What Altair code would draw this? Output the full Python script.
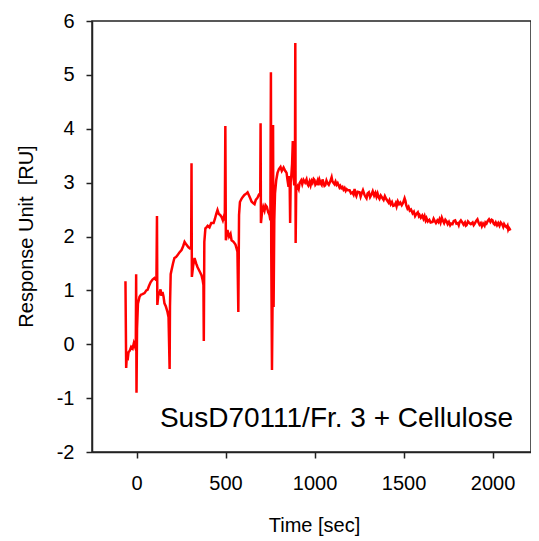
import altair as alt
import pandas as pd

time_sec = [
    -62, -58, -55, -50, -45, -38, -30, -22, -15, -8, -4, -2, 0, 3, 8, 17, 25, 34, 45, 55,
    62, 70, 79, 90, 101, 108, 112, 115, 117, 122, 129, 135, 140, 146, 152, 157, 165, 174, 180, 186,
    188, 192, 197, 205, 213, 222, 230, 240, 253, 262, 270, 280, 292, 300, 307, 309, 311, 318, 326, 335,
    343, 355, 365, 371, 376, 378, 381, 387, 393, 400, 410, 420, 433, 440, 448, 455, 462, 470, 478, 485,
    490, 496, 499, 502, 511, 520, 528, 534, 545, 556, 562, 567, 572, 576, 581, 590, 596, 606, 618, 624,
    632, 640, 646, 655, 663, 670, 680, 688, 695, 697, 699, 705, 712, 719, 725, 732, 740, 747, 752, 755,
    757, 761, 764, 767, 770, 774, 778, 785, 792, 800, 809, 816, 826, 835, 843, 848, 854, 858, 860, 863,
    866, 870, 874, 878, 881, 886, 890, 892, 894, 897, 905, 911, 916, 925, 931, 938, 947, 955, 960, 965,
    972, 978, 984, 989, 995, 1000, 1005, 1010, 1017, 1022, 1028, 1034, 1040, 1045, 1050, 1056, 1060, 1067, 1073, 1080,
    1088, 1096, 1100, 1105, 1112, 1118, 1124, 1130, 1135, 1140, 1145, 1151, 1157, 1163, 1169, 1175, 1180, 1188, 1197, 1205,
    1213, 1219, 1225, 1230, 1235, 1242, 1253, 1259, 1265, 1272, 1280, 1286, 1292, 1298, 1305, 1312, 1320, 1327, 1335, 1342,
    1348, 1354, 1360, 1365, 1372, 1382, 1388, 1395, 1402, 1410, 1416, 1421, 1428, 1435, 1442, 1450, 1456, 1461, 1468, 1475,
    1482, 1490, 1497, 1506, 1511, 1515, 1522, 1528, 1535, 1542, 1551, 1558, 1565, 1572, 1580, 1586, 1590, 1597, 1605, 1612,
    1618, 1624, 1629, 1636, 1645, 1652, 1663, 1669, 1675, 1682, 1690, 1696, 1702, 1708, 1715, 1722, 1728, 1735, 1742, 1748,
    1755, 1762, 1768, 1775, 1782, 1790, 1797, 1805, 1810, 1815, 1822, 1830, 1837, 1845, 1850, 1854, 1862, 1870, 1878, 1888,
    1894, 1900, 1908, 1915, 1921, 1927, 1934, 1940, 1947, 1955, 1960, 1966, 1973, 1980, 1988, 1995, 2000, 2006, 2012, 2018,
    2025, 2032, 2039, 2046, 2055, 2060, 2065, 2072, 2079, 2084, 2088, 2092, 2096, 2100,
]

response_ru = [
    1.17, -0.44, -0.25, -0.30, -0.15, -0.12, -0.05, -0.08, 0.02, -0.05, 0.00, 1.30, -0.90, 0.30, 0.75, 0.88, 0.92, 0.93, 0.95, 1.00,
    1.01, 1.08, 1.15, 1.20, 1.23, 1.20, 1.21, 2.38, 0.73, 0.90, 0.95, 1.02, 0.90, 0.97, 0.88, 0.76, 0.70, 0.60, 0.50, -0.46,
    0.70, 1.30, 1.38, 1.50, 1.60, 1.62, 1.65, 1.70, 1.75, 1.82, 1.90, 1.85, 1.80, 1.78, 1.80, 3.36, 1.25, 1.45, 1.60, 1.50,
    1.43, 1.35, 1.28, 1.20, 1.10, 0.06, 1.90, 2.15, 2.17, 2.20, 2.17, 2.25, 2.25, 2.32, 2.42, 2.49, 2.42, 2.40, 2.36, 2.30,
    2.36, 2.30, 4.05, 1.93, 2.12, 2.00, 2.05, 1.93, 1.90, 1.85, 1.78, 1.72, 0.60, 2.40, 2.64, 2.70, 2.73, 2.77, 2.80, 2.82,
    2.76, 2.70, 2.65, 2.62, 2.60, 2.68, 2.72, 2.78, 2.80, 4.10, 2.25, 2.45, 2.55, 2.48, 2.58, 2.55, 2.45, 2.40, 2.30, 5.05,
    1.70, -0.48, 0.70, 4.07, 0.69, 2.30, 2.80, 3.05, 3.18, 3.25, 3.29, 3.22, 3.28, 3.22, 3.18, 3.05, 2.92, 3.10, 3.10, 2.25,
    3.00, 3.15, 3.35, 3.77, 3.20, 2.95, 3.20, 5.59, 1.88, 2.86, 2.93, 2.88, 2.99, 3.04, 2.97, 3.05, 3.00, 3.06, 2.98, 2.95,
    3.02, 2.95, 3.03, 3.00, 3.07, 3.05, 2.96, 2.98, 3.04, 2.95, 3.05, 2.99, 2.96, 3.06, 3.00, 2.94, 2.95, 3.04, 2.99, 2.96,
    3.02, 3.10, 3.03, 3.00, 2.97, 3.02, 2.96, 2.99, 2.95, 2.91, 2.94, 2.90, 2.92, 2.87, 2.90, 2.85, 2.88, 2.86, 2.86, 2.80,
    2.82, 2.78, 2.88, 2.79, 2.75, 2.83, 2.82, 2.74, 2.80, 2.86, 2.78, 2.74, 2.71, 2.80, 2.82, 2.73, 2.78, 2.84, 2.76, 2.81,
    2.74, 2.80, 2.73, 2.70, 2.76, 2.71, 2.68, 2.75, 2.70, 2.66, 2.63, 2.67, 2.60, 2.64, 2.57, 2.58, 2.62, 2.56, 2.65, 2.60,
    2.63, 2.58, 2.62, 2.71, 2.66, 2.58, 2.52, 2.55, 2.48, 2.50, 2.43, 2.46, 2.38, 2.42, 2.45, 2.38, 2.40, 2.35, 2.39, 2.33,
    2.38, 2.30, 2.34, 2.28, 2.31, 2.26, 2.27, 2.33, 2.29, 2.25, 2.30, 2.27, 2.32, 2.26, 2.35, 2.29, 2.25, 2.31, 2.28, 2.23,
    2.27, 2.21, 2.24, 2.23, 2.29, 2.30, 2.24, 2.25, 2.21, 2.27, 2.30, 2.26, 2.22, 2.26, 2.20, 2.21, 2.28, 2.25, 2.23, 2.26,
    2.21, 2.24, 2.29, 2.32, 2.26, 2.22, 2.25, 2.19, 2.24, 2.20, 2.26, 2.24, 2.29, 2.32, 2.27, 2.31, 2.30, 2.24, 2.22, 2.26,
    2.21, 2.25, 2.20, 2.26, 2.22, 2.18, 2.23, 2.19, 2.17, 2.20, 2.13, 2.16, 2.14, 2.11,
]

x_ticks = [0, 500, 1000, 1500, 2000]
y_ticks = [-2, -1, 0, 1, 2, 3, 4, 5, 6]
annotation = ["SusD70111/Fr. 3 + Cellulose"]

df = pd.DataFrame({"t": time_sec, "ru": response_ru, "order": list(range(len(time_sec)))})
ann = pd.DataFrame({"label": annotation})

FONT = "Liberation Sans"
LABEL_EXPR = "datum.value < 0 ? '-' + format(-datum.value, 'd') : format(datum.value, 'd')"

line = alt.Chart(df).mark_line(color="#ff0000", strokeWidth=2.5).encode(
    x=alt.X(
        "t:Q",
        scale=alt.Scale(domain=[-250, 2216], nice=False, zero=False),
        axis=alt.Axis(
            values=x_ticks, title="Time [sec]", grid=False, tickSize=6,
            labelPadding=15, titleX=222, titleY=63, titleBaseline="top", titleAlign="center",
            titleFontSize=20, labelFontSize=20, labelFlush=False, labelExpr=LABEL_EXPR,
        ),
    ),
    y=alt.Y(
        "ru:Q",
        scale=alt.Scale(domain=[-2, 6], nice=False, zero=False),
        axis=alt.Axis(
            values=y_ticks, title="Response Unit\u00a0 [RU]", grid=False, tickSize=6,
            labelPadding=12, titleX=-66, titleY=215, titleBaseline="middle",
            titleFontSize=20, labelFontSize=20, labelFlush=False, labelExpr=LABEL_EXPR,
        ),
    ),
    order="order:Q",
)

text = alt.Chart(ann).mark_text(
    align="right", baseline="alphabetic", fontSize=28, font=FONT, color="black"
).encode(
    text="label:N",
    x=alt.value(421),
    y=alt.value(406),
)

chart = (line + text).properties(
    width=439,
    height=431,
    padding={"left": 84, "top": 13, "right": 0, "bottom": 86},
    autosize=alt.AutoSizeParams(type="none"),
).configure_view(
    stroke="#222222", strokeWidth=1.5,
).configure_axis(
    domainColor="#222222", domainWidth=1.5, tickColor="#222222", tickWidth=1.5,
    labelColor="black", titleColor="black", labelFont=FONT, titleFont=FONT,
    titleFontWeight="normal",
)

chart.save("out.html", embed_options={"renderer": "svg", "actions": False})
